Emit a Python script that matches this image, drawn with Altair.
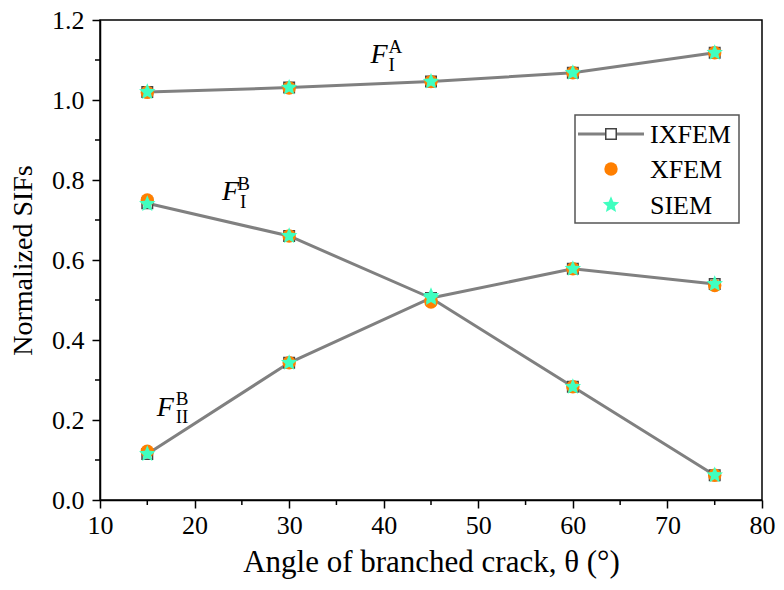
import altair as alt
import pandas as pd

# ---------------- data ----------------
angles = [15, 30, 45, 60, 75]

ixfem_FIA = [1.020, 1.031, 1.046, 1.068, 1.118]
xfem_FIA = [1.019, 1.030, 1.046, 1.068, 1.118]
siem_FIA = [1.020, 1.031, 1.046, 1.068, 1.118]

ixfem_FIB = [0.742, 0.660, 0.505, 0.283, 0.062]
xfem_FIB = [0.750, 0.660, 0.500, 0.283, 0.062]
siem_FIB = [0.740, 0.660, 0.505, 0.283, 0.062]

ixfem_FIIB = [0.115, 0.343, 0.505, 0.578, 0.540]
xfem_FIIB = [0.122, 0.343, 0.495, 0.578, 0.536]
siem_FIIB = [0.115, 0.343, 0.510, 0.578, 0.540]

methods = ["IXFEM", "XFEM", "SIEM"]
x_ticks = [10, 20, 30, 40, 50, 60, 70, 80]
x_minor = [15, 25, 35, 45, 55, 65, 75]
y_ticks = [0.0, 0.2, 0.4, 0.6, 0.8, 1.0, 1.2]
y_minor = [0.1, 0.3, 0.5, 0.7, 0.9, 1.1]

# annotation pieces: (x, y) in data units
ann_F_x = [38.6, 22.9, 16.0]
ann_F_y = [1.0925, 0.750, 0.210]
ann_sup_text = ["A", "B", "B"]
ann_sup_x = [40.5, 24.5, 18.0]
ann_sup_y = [1.1175, 0.775, 0.2375]
ann_sub_text = ["I", "I", "II"]
ann_sub_x = [40.5, 24.8, 18.0]
ann_sub_y = [1.072, 0.730, 0.192]

# ---------------- build tables ----------------
series = {
    ("IXFEM", "FIA"): ixfem_FIA, ("XFEM", "FIA"): xfem_FIA, ("SIEM", "FIA"): siem_FIA,
    ("IXFEM", "FIB"): ixfem_FIB, ("XFEM", "FIB"): xfem_FIB, ("SIEM", "FIB"): siem_FIB,
    ("IXFEM", "FIIB"): ixfem_FIIB, ("XFEM", "FIIB"): xfem_FIIB, ("SIEM", "FIIB"): siem_FIIB,
}
rows = []
for (m, s), vals in series.items():
    for a, v in zip(angles, vals):
        rows.append({"method": m, "sif": s, "angle": a, "value": v})
df = pd.DataFrame(rows)

FONT = "Liberation Serif"
GRAY = "#808080"
ORANGE = "#FF7F00"
AQUA = "#40FFC0"
STAR = ("M0,-1L0.265,-0.364L0.951,-0.309L0.428,0.139L0.588,0.809L0,0.45"
        "L-0.588,0.809L-0.428,0.139L-0.951,-0.309L-0.265,-0.364Z")

xscale = alt.Scale(domain=[10, 80], nice=False, zero=False)
yscale = alt.Scale(domain=[0, 1.2], nice=False, zero=False)

xaxis = alt.Axis(values=x_ticks, format="d", title="Angle of branched crack, θ (°)",
                 labelFlush=False, labelOverlap=False, grid=False)
yaxis = alt.Axis(values=y_ticks, format=".1f", title="Normalized SIFs",
                 labelOverlap=False, grid=False)

X = alt.X("angle:Q", scale=xscale, axis=xaxis)
Y = alt.Y("value:Q", scale=yscale, axis=yaxis)

base = alt.Chart(df)

line = base.transform_filter(alt.datum.method == "IXFEM").mark_line(
    color=GRAY, strokeWidth=3).encode(x=X, y=Y, detail="sif:N")

sq = base.transform_filter(alt.datum.method == "IXFEM").mark_point(
    shape="square", fill="white", fillOpacity=1, stroke="#444444", strokeWidth=1.5,
    size=110, opacity=1).encode(x=X, y=Y)

circ = base.transform_filter(alt.datum.method == "XFEM").mark_point(
    shape="circle", filled=True, color=ORANGE, size=180, opacity=1).encode(x=X, y=Y)

star = base.transform_filter(alt.datum.method == "SIEM").mark_point(
    shape=STAR, filled=True, color=AQUA, size=300, opacity=1).encode(x=X, y=Y)

# minor ticks
xm = alt.Chart(pd.DataFrame({"angle": x_minor})).mark_rule(
    color="black", strokeWidth=1.5).encode(x=X, y=alt.value(480), y2=alt.value(485))
ym = alt.Chart(pd.DataFrame({"value": y_minor})).mark_rule(
    color="black", strokeWidth=1.5).encode(y=Y, x=alt.value(0), x2=alt.value(-5))

# annotations
ann_df = pd.DataFrame({
    "fx": ann_F_x, "fy": ann_F_y,
    "sup": ann_sup_text, "supx": ann_sup_x, "supy": ann_sup_y,
    "sub": ann_sub_text, "subx": ann_sub_x, "suby": ann_sub_y,
})
annF = alt.Chart(ann_df).mark_text(
    text="F", font=FONT, fontStyle="italic", fontSize=28, align="left",
    baseline="alphabetic", color="black").encode(
    x=alt.X("fx:Q", scale=xscale, axis=xaxis), y=alt.Y("fy:Q", scale=yscale, axis=yaxis))
annSup = alt.Chart(ann_df).mark_text(
    font=FONT, fontSize=19, align="left", baseline="alphabetic", color="black").encode(
    x=alt.X("supx:Q", scale=xscale, axis=xaxis), y=alt.Y("supy:Q", scale=yscale, axis=yaxis),
    text="sup:N")
annSub = alt.Chart(ann_df).mark_text(
    font=FONT, fontSize=19, align="left", baseline="alphabetic", color="black").encode(
    x=alt.X("subx:Q", scale=xscale, axis=xaxis), y=alt.Y("suby:Q", scale=yscale, axis=yaxis),
    text="sub:N")

# legend (drawn by hand to show the line through the square)
one = alt.Chart(pd.DataFrame({"k": [0]}))
leg_box = one.mark_rect(fill="white", stroke="#555555", strokeWidth=1.5).encode(
    x=alt.value(475), x2=alt.value(639), y=alt.value(95), y2=alt.value(203))
leg_line = one.mark_rule(color=GRAY, strokeWidth=3).encode(
    x=alt.value(478), x2=alt.value(544), y=alt.value(114))
leg_sq = one.mark_point(shape="square", fill="white", fillOpacity=1, stroke="#444444",
                        strokeWidth=1.5, size=110, opacity=1).encode(
    x=alt.value(511), y=alt.value(114))
leg_circ = one.mark_point(shape="circle", filled=True, color=ORANGE, size=180,
                          opacity=1).encode(x=alt.value(511), y=alt.value(149))
leg_star = one.mark_point(shape=STAR, filled=True, color=AQUA, size=300,
                          opacity=1).encode(x=alt.value(511), y=alt.value(185))
leg_txt = []
for name, yy in zip(methods, [114, 149, 185]):
    leg_txt.append(one.mark_text(text=name, font=FONT, fontSize=26, align="left",
                                 baseline="middle", color="black", dy=1).encode(
        x=alt.value(550), y=alt.value(yy)))

chart = alt.layer(
    line, sq, circ, star, xm, ym, annF, annSup, annSub,
    leg_box, leg_line, leg_sq, leg_circ, leg_star, *leg_txt
).properties(
    width=662, height=480,
    autosize=alt.AutoSizeParams(type="none"),
    padding={"left": 92, "top": 12, "right": 14, "bottom": 84},
).configure_view(
    stroke="black", strokeWidth=1.5
).configure_axis(
    labelFont=FONT, titleFont=FONT, labelFontSize=26,
    labelColor="black", titleColor="black", titleFontWeight="normal",
    domainColor="black", domainWidth=1.5, tickColor="black", tickWidth=1.5,
    tickSize=8,
).configure_axisX(
    labelPadding=4, titlePadding=9, titleFontSize=31,
).configure_axisY(
    labelPadding=8, titlePadding=14, titleFontSize=28,
)

chart.save("out.html", embed_options={"renderer": "svg", "actions": False})
